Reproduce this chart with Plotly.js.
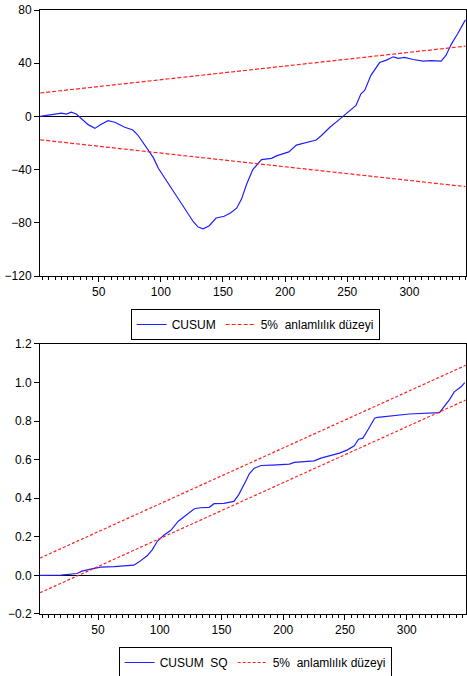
<!DOCTYPE html>
<html>
<head>
<meta charset="utf-8">
<script src="https://cdn.plot.ly/plotly-3.0.1.min.js"></script>
<style>html,body{margin:0;padding:0;background:#fff;}#chart{width:467px;height:676px;}</style>
</head>
<body>
<div id="chart"></div>
<script>
// CUSUM (top chart)
const cusumX = [3, 12, 20, 24, 28, 32, 36, 41.5, 47, 51, 57.5, 63, 71, 77.5, 81.5, 89.5, 94, 98, 103, 111, 119, 126, 130, 134, 139, 144.5, 151, 156, 161, 165, 169, 174, 181, 189, 193, 200, 203, 209, 217, 225, 229, 236, 242.5, 248, 252, 257, 261, 264, 269, 276, 281.5, 287, 291, 296, 303, 311, 317.5, 325.5, 329.5, 333.5, 339, 345];
const cusumY = [0, 1, 2.4, 1.8, 3.2, 1.8, -1.9, -6.2, -9, -6.4, -3.2, -4.4, -8.2, -10.2, -14, -24.6, -31, -39, -46, -57.4, -68.8, -79, -83.2, -84.5, -82.2, -76.4, -75.1, -72.6, -69, -62, -51, -40, -32.5, -31.5, -29.7, -28, -26.7, -21.6, -19.6, -17.8, -14.5, -8.2, -3.2, 1.1, 3.9, 8.2, 17, 19.5, 30.9, 40.5, 42.3, 44.8, 43.6, 44.3, 42.8, 41.5, 42, 41.5, 46, 54, 62.5, 72.6];
const cusumBoundX = [3, 345];
const cusumUpper = [17.6, 52.8];
const cusumLower = [-17.6, -52.8];

// CUSUM of squares (bottom chart)
const sqX = [3, 20, 33, 37, 44, 52, 63, 71, 79, 83, 90, 94, 98, 103, 109, 115, 121, 128, 133, 140, 144, 152, 160, 164, 169.5, 172.5, 176.5, 182, 191, 205, 209, 225, 230.5, 237, 245.5, 252, 257.5, 261, 264.5, 268.5, 274, 276.5, 289, 302, 326.5, 330.5, 334.5, 338.5, 344, 347];
const sqY = [0, 0.002, 0.01, 0.022, 0.033, 0.043, 0.046, 0.05, 0.053, 0.069, 0.103, 0.134, 0.177, 0.207, 0.234, 0.281, 0.31, 0.346, 0.351, 0.353, 0.372, 0.374, 0.384, 0.419, 0.487, 0.527, 0.556, 0.57, 0.572, 0.577, 0.586, 0.594, 0.608, 0.62, 0.634, 0.651, 0.672, 0.706, 0.712, 0.754, 0.815, 0.82, 0.828, 0.837, 0.844, 0.875, 0.91, 0.952, 0.978, 1.0];
const sqBoundX = [3, 348];
const sqUpper = [0.09, 1.09];
const sqLower = [-0.09, 0.91];

const labelTop = ['CUSUM', '5%\u00a0 anlamlılık düzeyi'];
const labelBottom = ['CUSUM\u00a0 SQ', '5%\u00a0 anlamlılık düzeyi'];

const FONT = 'Liberation Sans, Arial, sans-serif';
const BLUE = '#1f1fff';
const RED = '#ff2020';

const traces = [
  {x: cusumX, y: cusumY, xaxis: 'x', yaxis: 'y', mode: 'lines', name: labelTop[0], legend: 'legend',
   line: {color: BLUE, width: 1.2}},
  {x: cusumBoundX, y: cusumUpper, xaxis: 'x', yaxis: 'y', mode: 'lines', name: labelTop[1], legend: 'legend',
   line: {color: RED, width: 1.2, dash: '4px,2px'}},
  {x: cusumBoundX, y: cusumLower, xaxis: 'x', yaxis: 'y', mode: 'lines', showlegend: false, legend: 'legend',
   line: {color: RED, width: 1.2, dash: '4px,2px'}},
  {x: sqX, y: sqY, xaxis: 'x2', yaxis: 'y2', mode: 'lines', name: labelBottom[0], legend: 'legend2',
   line: {color: BLUE, width: 1.2}},
  {x: sqBoundX, y: sqUpper, xaxis: 'x2', yaxis: 'y2', mode: 'lines', name: labelBottom[1], legend: 'legend2',
   line: {color: RED, width: 1.2, dash: '3px,2px'}},
  {x: sqBoundX, y: sqLower, xaxis: 'x2', yaxis: 'y2', mode: 'lines', showlegend: false, legend: 'legend2',
   line: {color: RED, width: 1.2, dash: '3px,2px'}}
];

const xCommon = {
  tick0: 0, dtick: 50, ticks: 'outside', ticklen: 5, tickcolor: '#000', tickwidth: 1,
  showline: true, linecolor: '#000', linewidth: 1, mirror: true, showgrid: false, zeroline: false,
  tickfont: {family: FONT, size: 12, color: '#000'},
  minor: {tick0: 0, dtick: 5, ticks: 'outside', ticklen: 3, tickcolor: '#000', tickwidth: 1, showgrid: false}
};
const yCommon = {
  ticks: 'outside', ticklen: 5, tickcolor: '#000', tickwidth: 1,
  showline: true, linecolor: '#000', linewidth: 1, mirror: true, showgrid: false,
  zeroline: true, zerolinecolor: '#000', zerolinewidth: 1,
  tickfont: {family: FONT, size: 12, color: '#000'}
};
const legendCommon = {
  orientation: 'h', xanchor: 'center', yanchor: 'middle',
  bordercolor: '#000', borderwidth: 1, bgcolor: '#fff',
  font: {family: FONT, size: 12, color: '#000'}, itemwidth: 30
};

const layout = {
  width: 467, height: 676,
  margin: {l: 40, r: 1, t: 10, b: 0, autoexpand: false},
  paper_bgcolor: '#fff', plot_bgcolor: '#fff',
  font: {family: FONT, color: '#000'},
  xaxis: Object.assign({}, xCommon, {domain: [0, 1], anchor: 'y', range: [2.8, 345.5]}),
  yaxis: Object.assign({}, yCommon, {domain: [0.6006, 1], anchor: 'x', range: [-120, 80], dtick: 40, tick0: 0}),
  xaxis2: Object.assign({}, xCommon, {domain: [0, 1], anchor: 'y2', range: [3, 348]}),
  yaxis2: Object.assign({}, yCommon, {domain: [0.0931, 0.4985], anchor: 'x2', range: [-0.2, 1.2], dtick: 0.2, tick0: 0, tickformat: '.1f'}),
  legend: Object.assign({}, legendCommon, {x: 0.505, y: 0.5278}),
  legend2: Object.assign({}, legendCommon, {x: 0.505, y: 0.0203})
};

Plotly.newPlot('chart', traces, layout, {displayModeBar: false, staticPlot: true});
</script>
</body>
</html>
